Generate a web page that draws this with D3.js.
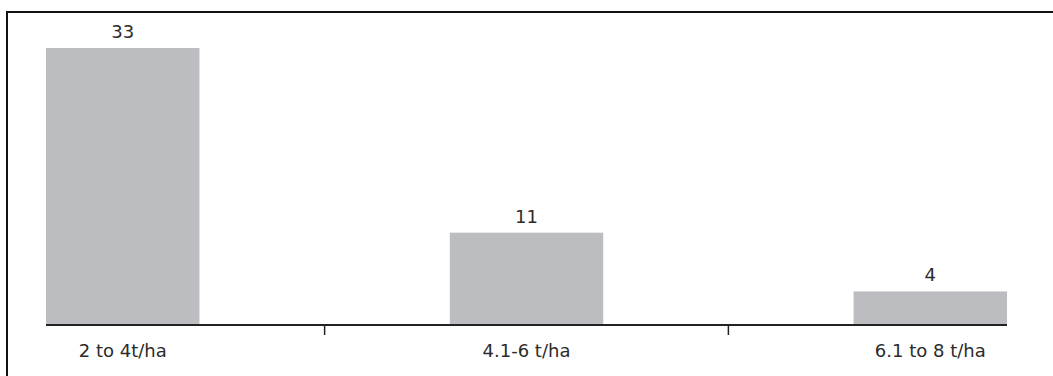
<!DOCTYPE html>
<html>
<head>
<meta charset="utf-8">
<script src="https://cdn.jsdelivr.net/npm/d3@7"></script>
<style>
  html, body { margin: 0; padding: 0; background: #fff; }
  svg { display: block; }
  text { font-family: "DejaVu Sans", "Open Sans", sans-serif; fill: #2b2b2b; }
</style>
</head>
<body>
<svg id="chart" width="1053" height="376"></svg>
<script>
// Yield classes and the count in each
const categories = ["2 to 4t/ha", "4.1-6 t/ha", "6.1 to 8 t/ha"];
const counts = [33, 11, 4];

const svg = d3.select("#chart");
const W = 1053, H = 376;

// frame open on the right and bottom
svg.append("path")
  .attr("d", `M7,${H + 2} V12 H${W + 2}`)
  .attr("fill", "none")
  .attr("stroke", "#111")
  .attr("stroke-width", 2);

const x = d3.scaleBand()
  .domain(categories)
  .range([46, 1007])
  .paddingInner(0.62)
  .paddingOuter(0);

const y = d3.scaleLinear()
  .domain([0, 33])
  .range([325, 48]);

const data = categories.map((c, i) => ({ cat: c, value: counts[i] }));

// bars
svg.append("g")
  .selectAll("rect")
  .data(data)
  .join("rect")
  .attr("x", d => x(d.cat))
  .attr("y", d => y(d.value))
  .attr("width", x.bandwidth())
  .attr("height", d => y(0) - y(d.value))
  .attr("fill", "#bcbdc0");

// value labels
svg.append("g")
  .selectAll("text")
  .data(data)
  .join("text")
  .attr("x", d => x(d.cat) + x.bandwidth() / 2)
  .attr("y", d => y(d.value) - 10)
  .attr("text-anchor", "middle")
  .attr("font-size", 18)
  .text(d => d.value);

// baseline
svg.append("line")
  .attr("x1", x.range()[0])
  .attr("x2", x.range()[1])
  .attr("y1", y(0))
  .attr("y2", y(0))
  .attr("stroke", "#222")
  .attr("stroke-width", 2);

// ticks between categories
const bounds = categories.slice(1).map((c, i) =>
  (x(categories[i]) + x.bandwidth() + x(c)) / 2);
svg.append("g")
  .selectAll("line")
  .data(bounds)
  .join("line")
  .attr("x1", d => d)
  .attr("x2", d => d)
  .attr("y1", y(0))
  .attr("y2", y(0) + 10)
  .attr("stroke", "#222")
  .attr("stroke-width", 1.5);

// category labels
svg.append("g")
  .selectAll("text")
  .data(categories)
  .join("text")
  .attr("x", d => x(d) + x.bandwidth() / 2)
  .attr("y", 357)
  .attr("text-anchor", "middle")
  .attr("font-size", 18)
  .text(d => d);
</script>
</body>
</html>
